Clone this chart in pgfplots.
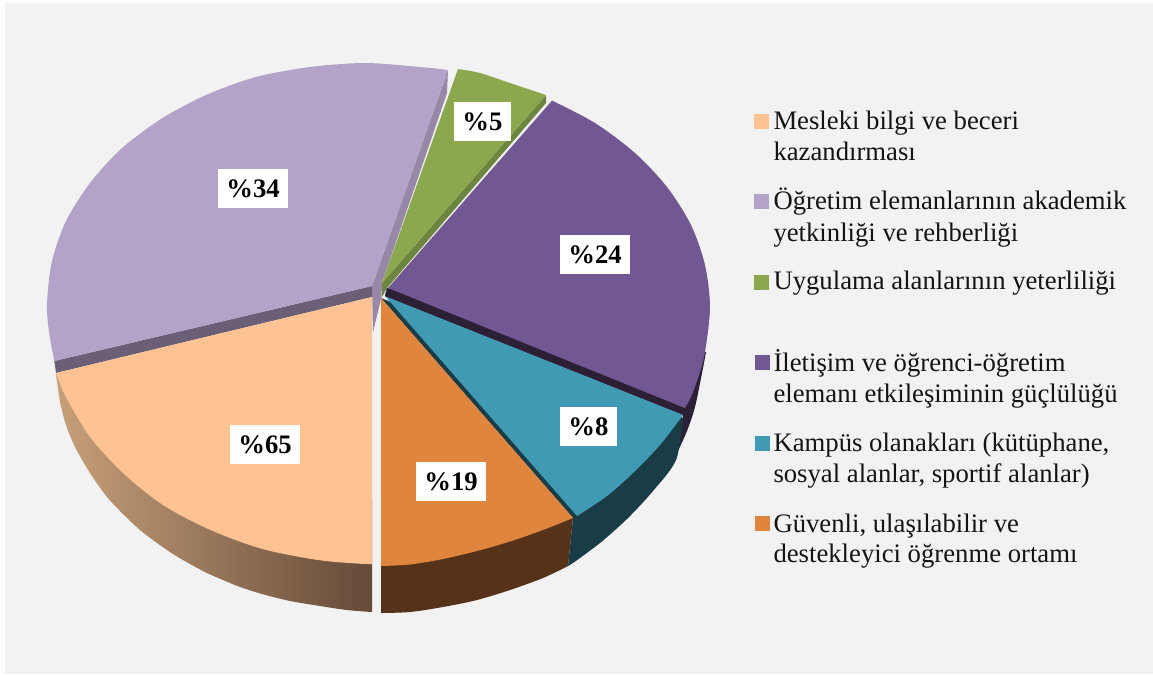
\documentclass[border=0pt]{standalone}
\usepackage{pgfplots}
\pgfplotsset{compat=1.18}
\usepackage{fontspec}
\setmainfont{Liberation Serif}
\definecolor{bgc}{HTML}{F2F2F2}
\definecolor{peach}{HTML}{FFC393}
\definecolor{lilac}{HTML}{B4A3C8}
\definecolor{grn}{HTML}{8CA84E}
\definecolor{purp}{HTML}{725892}
\definecolor{teal2}{HTML}{409AB3}
\definecolor{oran}{HTML}{E0853D}
\definecolor{lilacwall}{HTML}{9888A8}
\definecolor{lilacstrip}{HTML}{6A5F77}
\definecolor{grnd}{HTML}{6D853F}
\definecolor{purpd}{HTML}{2C2036}
\definecolor{teald}{HTML}{193C47}
\definecolor{brownd}{HTML}{553218}
\definecolor{wallL}{HTML}{C8A07A}
\definecolor{wallM}{HTML}{8A6B4E}
\definecolor{wallR}{HTML}{654A38}
\newcommand{\lbl}[3]{\node[fill=white,inner sep=0pt,minimum width=#2pt,minimum height=39pt,font=\fontsize{26.7}{30}\selectfont\bfseries] at (axis cs:#1) {\%#3};}
\newcommand{\leg}[2]{\node[anchor=base west,inner sep=0pt,text=black!92,font=\fontsize{26.7}{31}\selectfont] at (axis cs:#1) {#2};}
\newcommand{\swatch}[2]{\addplot[only marks,mark=square*,mark size=7pt,mark options={draw=#1,fill=#1,line width=0pt}] coordinates {(#2)};}
\begin{document}
\begin{tikzpicture}
\begin{axis}[scale only axis,width=1153pt,height=675pt,xmin=0,xmax=1153,ymin=0,ymax=675,y dir=reverse,hide axis,clip=false]
% page and panel
\addplot[draw=none,fill=white] coordinates {(0,0)(1153,0)(1153,675)(0,675)} -- cycle;
\addplot[draw=none,fill=bgc] coordinates {(5,3)(1153,3)(1153,674)(5,674)} -- cycle;
% side walls
\addplot[draw=none,fill=lilacwall] coordinates {(448,70)(447,93)(382,283)(381.5,297)(373,332)(372,286)} -- cycle;
\addplot[draw=none,fill=lilacstrip] coordinates {(54.3,361)(372,286)(372,297)(56,373)} -- cycle;
\addplot[draw=none,fill=grnd] coordinates {(546,95)(546,103)(387,288)(382,297)(382,283)} -- cycle;
\addplot[smooth,draw=none,fill=purpd] coordinates {(706,352)(703,368)(695,407)(687,431)(677,453)} -- (axis cs:683,415) -- (axis cs:385,296) -- (axis cs:387,288) -- cycle;
\addplot[smooth,draw=none,fill=teald] coordinates {(683,418)(676,460)(653,491)(627,519)(600,543)(573,563)} -- (axis cs:568,566) -- (axis cs:573,518) -- (axis cs:381,298) -- cycle;
\addplot[smooth,draw=none,fill=brownd] coordinates {(381,613)(410,612)(443,607)(477,600)(510,590)(543,578)(568,566)} -- (axis cs:573,518) -- (axis cs:381,500) -- cycle;
\addplot[smooth,draw=none,left color=wallL,middle color=wallM,right color=wallR] coordinates {(56,373)(60,402)(66,425)(75,447)(90,473)(107,497)(124,515)(140,530)(157,543)(173,554)(190,564)(207,573)(223,580)(240,587)(262,594)(290,601)(320,606)(347,610)(372,612)} -- (axis cs:372,500) -- cycle;
% tops
\addplot[smooth,draw=none,fill=lilac] coordinates {(54.3,361)(49,332)(47,303)(52,261)(66,221)(90,183)(121,149)(161,119)(206,95)(256,77)(310,67)(365,63)(420,67)(448,70)} -- (axis cs:372,286) -- cycle;
\addplot[smooth,draw=none,fill=peach] coordinates {(56,373)(66,397)(90,437)(123,473)(163,505)(210.5,530)(262.5,549)(318,560)(358,563.6)(372,564)} -- (axis cs:372,297) -- cycle;
\addplot[smooth,draw=none,fill=oran] coordinates {(381,566)(410,564.5)(443,559)(477,551)(510,541.5)(543,530)(573,518)} -- (axis cs:381,298) -- cycle;
\addplot[smooth,draw=none,fill=teal2] coordinates {(577,516)(607,496)(633,473)(660,445)(683,415)} -- (axis cs:385,296) -- cycle;
\addplot[smooth,draw=none,fill=grn] coordinates {(458,69)(480,73)(510,83)(546,95)} -- (axis cs:382,283) -- cycle;
\addplot[smooth,draw=none,fill=purpd] coordinates {(685,408)(684,415)} -- (axis cs:385,296) -- (axis cs:387,288) -- cycle;
\addplot[smooth,draw=none,fill=purp] coordinates {(552,100.6)(595,123)(635,153)(667,187)(691,225)(705,265)(710,307)(705,352)(699,375)(691,397)(685,408)} -- (axis cs:388,288) -- cycle;
% legend swatches
\swatch{peach}{761,121}
\swatch{lilac}{761,201}
\swatch{grn}{761,282}
\swatch{purp}{762,362}
\swatch{teal2}{762,443}
\swatch{oran}{762,523}
% value labels
\lbl{253,188.5}{70}{34}
\lbl{482.5,121.5}{57}{5}
\lbl{595,254.5}{70}{24}
\lbl{265,444.5}{70}{65}
\lbl{451,481.5}{70}{19}
\lbl{588.5,426.5}{57}{8}
% legend text
\leg{773.3,129}{Mesleki bilgi ve beceri}
\leg{773.3,160}{kazandırması}
\leg{773.3,209}{Öğretim elemanlarının akademik}
\leg{773.3,241}{yetkinliği ve rehberliği}
\leg{773.3,289}{Uygulama alanlarının yeterliliği}
\leg{773.3,371}{İletişim ve öğrenci-öğretim}
\leg{773.3,402}{elemanı etkileşiminin güçlülüğü}
\leg{773.3,451}{Kampüs olanakları (kütüphane,}
\leg{773.3,482}{sosyal alanlar, sportif alanlar)}
\leg{773.3,532}{Güvenli, ulaşılabilir ve}
\leg{773.3,562}{destekleyici öğrenme ortamı}
\end{axis}
\end{tikzpicture}
\end{document}
